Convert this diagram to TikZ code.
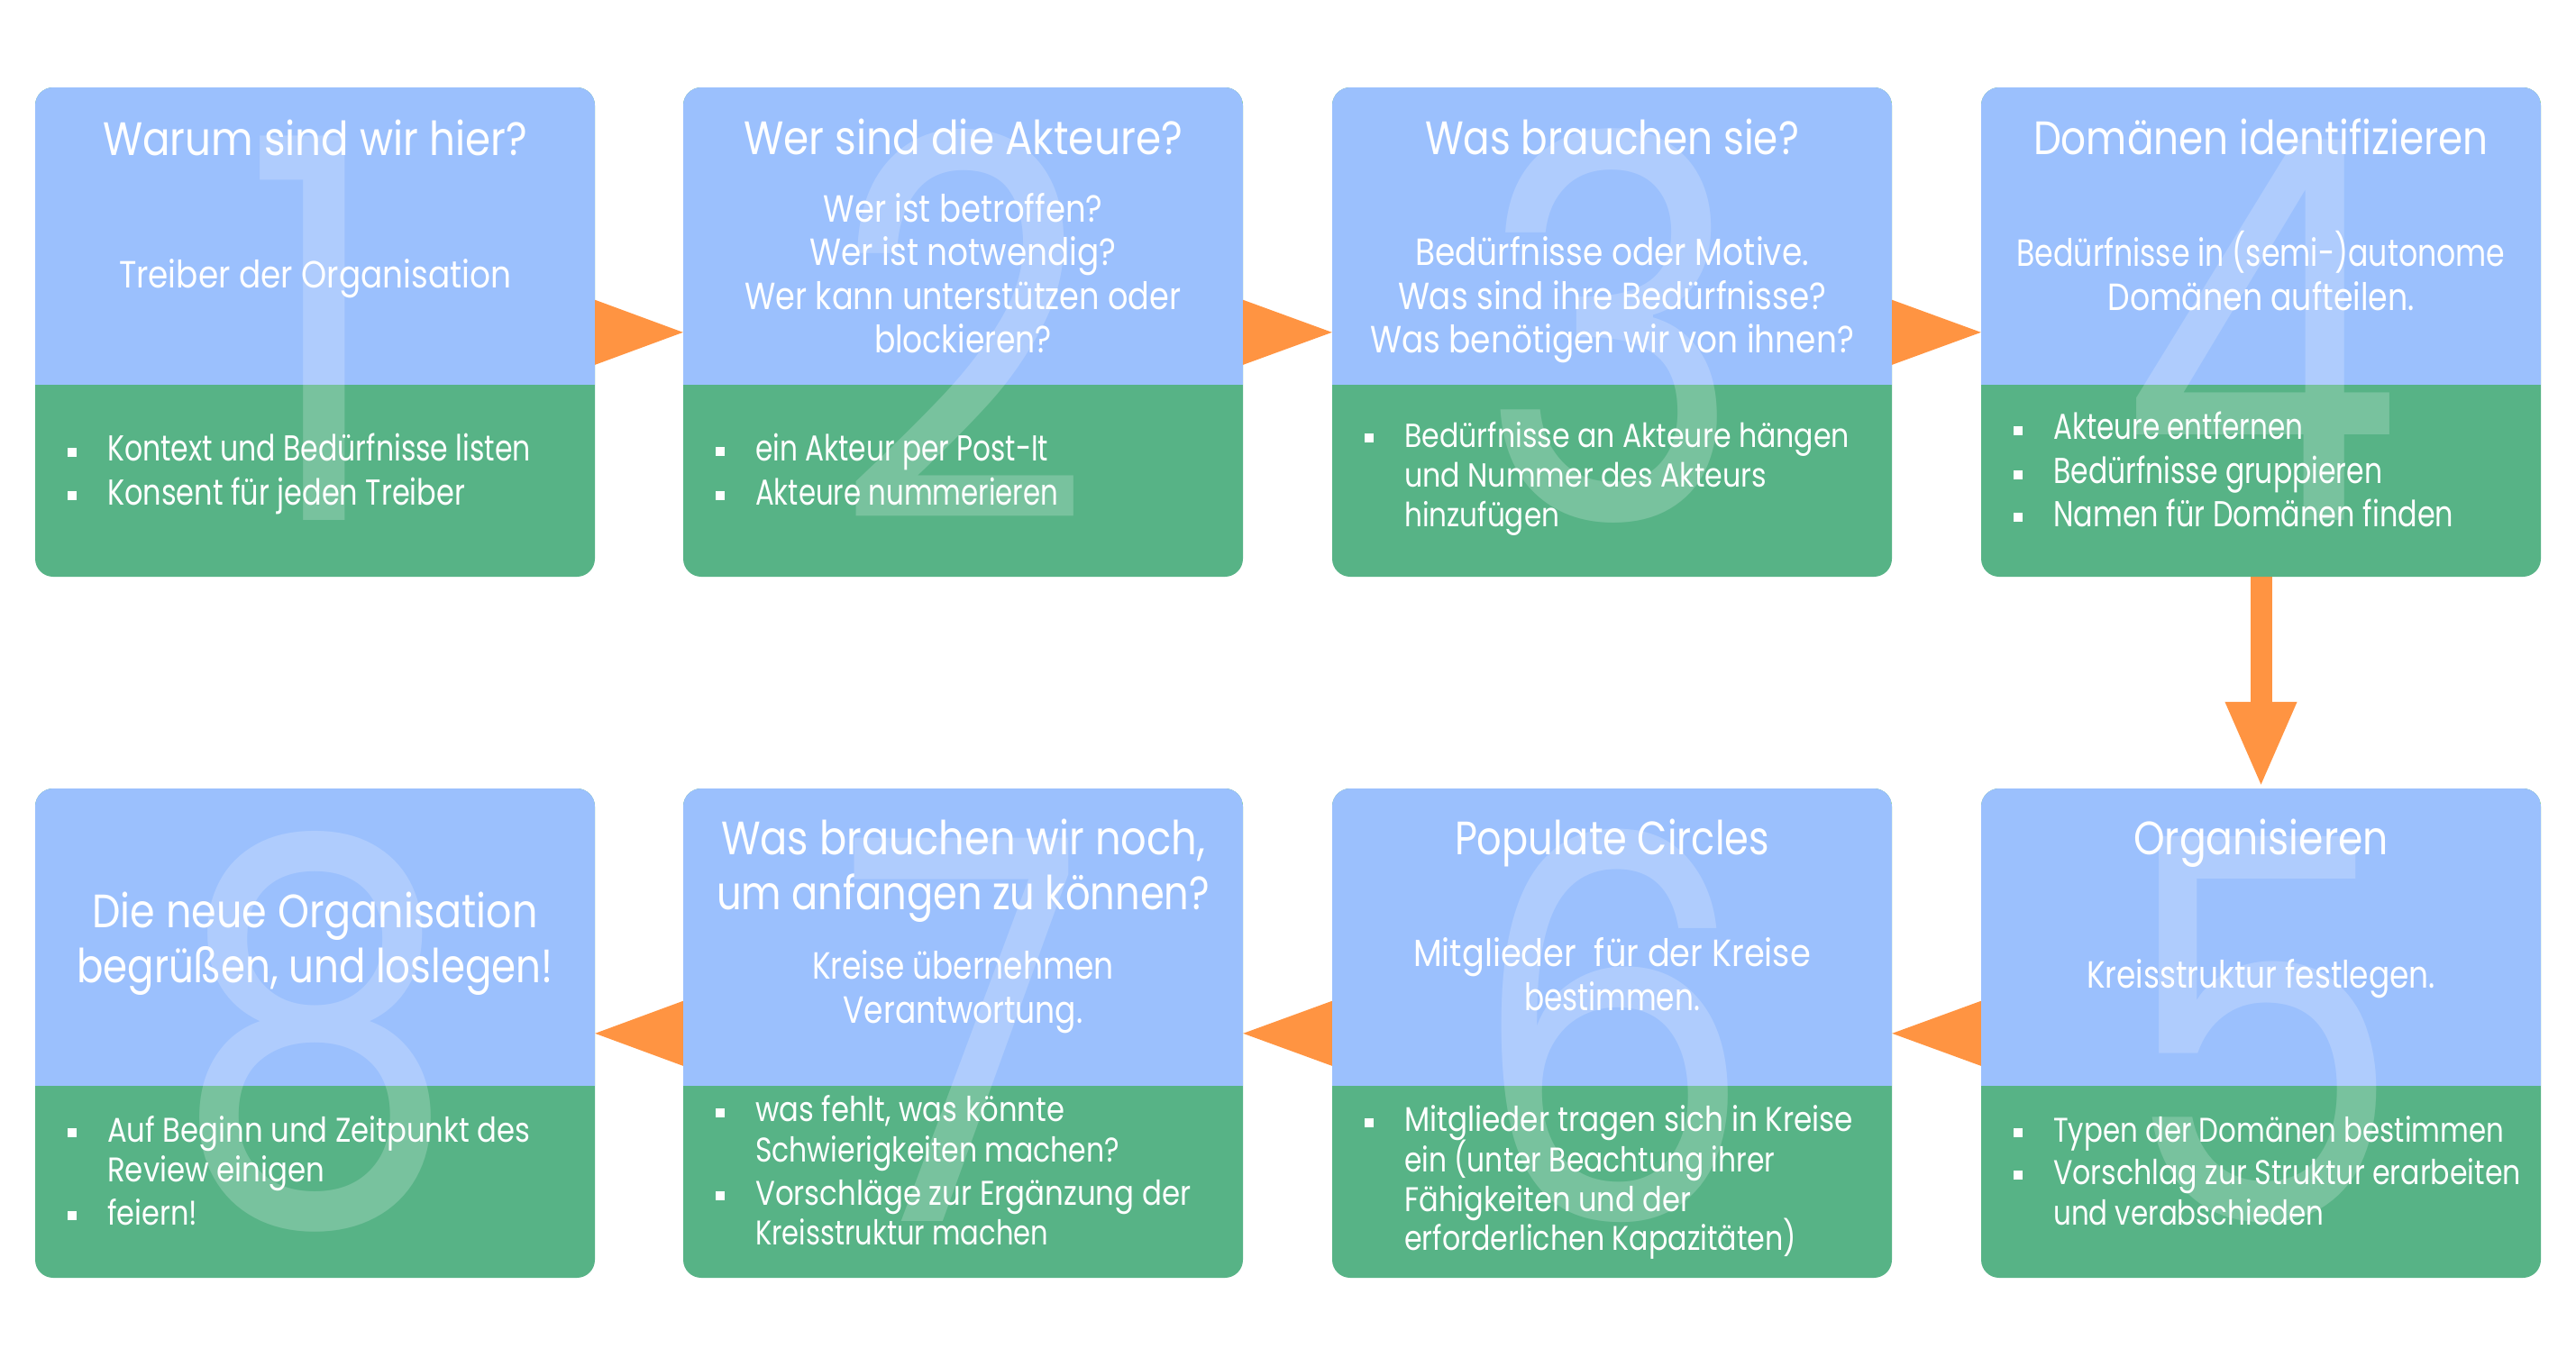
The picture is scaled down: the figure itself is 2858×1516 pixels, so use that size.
\documentclass[tikz,border=0pt]{standalone}
\usepackage{fontspec}
\usepackage{graphicx}
\setmainfont{Poppins}[FakeStretch=0.85]
\usetikzlibrary{calc,arrows.meta}
\definecolor{bxblue}{HTML}{9BC0FD}
\definecolor{bxgreen}{HTML}{57B386}
\definecolor{arrorange}{HTML}{FF9442}
\newlength\fitlen
\newcommand\fitw[2]{\settowidth\fitlen{#2}\pgfmathsetmacro\fitr{#1/\fitlen}\scalebox{\fitr}[1]{#2}}
\tikzset{
  stepbox/.style={minimum width=621pt, minimum height=543pt, inner sep=0pt,
    rounded corners=20pt, fill=bxgreen,
    path picture={\fill[bxblue, sharp corners] (path picture bounding box.north west) rectangle ([yshift=-330pt]path picture bounding box.north east);}},
  bignum/.style={text=white, text opacity=0.2, font=\fontsize{590}{600}\selectfont, inner sep=0pt, anchor=base, text height=415pt, text depth=0pt},
  ttl/.style={text=white, font=\fontsize{52}{60}\selectfont, inner sep=0pt, anchor=base},
  bdy/.style={text=white, font=\fontsize{42}{48}\selectfont, inner sep=0pt, anchor=base},
  itm/.style={text=white, font=\fontsize{40}{48}\selectfont, inner sep=0pt, anchor=base west},
  itms/.style={itm, font=\fontsize{37}{44}\selectfont},
  itmr/.style={itm, font=\fontsize{38}{44}\selectfont},
  tri/.style={fill=arrorange},
}
\newcommand\bul[2]{\fill[white] (#1-44,#2-15) rectangle (#1-34,#2-5);}
\begin{document}
\begin{tikzpicture}[x=1pt,y=-1pt]
\useasboundingbox (0,0) rectangle (2858,1516);
\fill[white] (0,0) rectangle (2858,1516);
% boxes
\node[stepbox] (b1) at (349.5,368.5) {};
\node[stepbox] (b2) at (1068.5,368.5) {};
\node[stepbox] (b3) at (1788.5,368.5) {};
\node[stepbox] (b4) at (2508.5,368.5) {};
\node[stepbox] (b5) at (2508.5,1146.5) {};
\node[stepbox] (b6) at (1788.5,1146.5) {};
\node[stepbox] (b7) at (1068.5,1146.5) {};
\node[stepbox] (b8) at (349.5,1146.5) {};
% big numbers
\node[bignum] (n1) at (349.5,577) {1};
\node[bignum] (n2) at (1068.5,577) {2};
\node[bignum] (n3) at (1788.5,577) {3};
\node[bignum] (n4) at (2508.5,577) {4};
\node[bignum] (n5) at (2508.5,1355) {5};
\node[bignum] (n6) at (1788.5,1355) {6};
\node[bignum] (n7) at (1068.5,1355) {7};
\node[bignum] (n8) at (349.5,1355) {8};
% arrows row 1
\fill[tri] ($(b1.north east)+(0,236)$) -- ($(b1.north east)+(0,308)$) -- ($(b2.north west)+(0,272)$) -- cycle;
\fill[tri] ($(b2.north east)+(0,236)$) -- ($(b2.north east)+(0,308)$) -- ($(b3.north west)+(0,272)$) -- cycle;
\fill[tri] ($(b3.north east)+(0,236)$) -- ($(b3.north east)+(0,308)$) -- ($(b4.north west)+(0,272)$) -- cycle;
% arrows row 2
\fill[tri] ($(b5.north west)+(0,236)$) -- ($(b5.north west)+(0,308)$) -- ($(b6.north east)+(0,272)$) -- cycle;
\fill[tri] ($(b6.north west)+(0,236)$) -- ($(b6.north west)+(0,308)$) -- ($(b7.north east)+(0,272)$) -- cycle;
\fill[tri] ($(b7.north west)+(0,236)$) -- ($(b7.north west)+(0,308)$) -- ($(b8.north east)+(0,272)$) -- cycle;
% down arrow
\draw[arrorange, line width=24pt, -{Triangle[width=72pt,length=96pt]}] (b4.south) -- (b5.north);
% box 1
\node[ttl] (t1) at (349.5,172) {\fitw{471}{Warum sind wir hier?}};
\node[bdy] (d1) at (349.5,319) {\fitw{435}{Treiber der Organisation}};
\node[itm] (i1a) at (119,511.6) {\fitw{470}{Kontext und Bedürfnisse listen}}; \bul{119}{511.6}
\node[itm] (i1b) at (119,560) {\fitw{397}{Konsent für jeden Treiber}}; \bul{119}{560}
% box 2
\node[ttl] (t2) at (1068.5,171.4) {\fitw{487}{Wer sind die Akteure?}};
\node[bdy] (d2a) at (1068.5,246) {\fitw{310}{Wer ist betroffen?}};
\node[bdy] (d2b) at (1068.5,294) {\fitw{340}{Wer ist notwendig?}};
\node[bdy] (d2c) at (1068.5,343.6) {\fitw{484}{Wer kann unterstützen oder}};
\node[bdy] (d2d) at (1068.5,391.8) {\fitw{197}{blockieren?}};
\node[itm] (i2a) at (838,511) {\fitw{325}{ein Akteur per Post-It}}; \bul{838}{511}
\node[itm] (i2b) at (838,560) {\fitw{336}{Akteure nummerieren}}; \bul{838}{560}
% box 3
\node[ttl] (t3) at (1788.5,171) {\fitw{415}{Was brauchen sie?}};
\node[bdy] (d3a) at (1788.5,294) {\fitw{437}{Bedürfnisse oder Motive.}};
\node[bdy] (d3b) at (1788.5,343.6) {\fitw{475}{Was sind ihre Bedürfnisse?}};
\node[bdy] (d3c) at (1788.5,391.8) {\fitw{537}{Was benötigen wir von ihnen?}};
\node[itms] (i3a) at (1558,496) {\fitw{494}{Bedürfnisse an Akteure hängen}}; \bul{1558}{496}
\node[itms] (i3b) at (1558,540) {\fitw{402}{und Nummer des Akteurs}};
\node[itms] (i3c) at (1558,584.6) {\fitw{172}{hinzufügen}};
% box 4
\node[ttl] (t4) at (2508.5,171) {\fitw{505}{Domänen identifizieren}};
\node[bdy] (d4a) at (2508.5,295) {\fitw{542}{Bedürfnisse in (semi-)autonome}};
\node[bdy] (d4b) at (2508.5,344) {\fitw{340}{Domänen aufteilen.}};
\node[itm] (i4a) at (2278,487.7) {\fitw{277}{Akteure entfernen}}; \bul{2278}{487.7}
\node[itm] (i4b) at (2278,536.5) {\fitw{365}{Bedürfnisse gruppieren}}; \bul{2278}{536.5}
\node[itm] (i4c) at (2278,584) {\fitw{444}{Namen für Domänen finden}}; \bul{2278}{584}
% box 5
\node[ttl] (t5) at (2508.5,948.8) {\fitw{283}{Organisieren}};
\node[bdy] (d5) at (2508.5,1096.8) {\fitw{387}{Kreisstruktur festlegen.}};
\node[itmr] (i5a) at (2278,1267) {\fitw{500}{Typen der Domänen bestimmen}}; \bul{2278}{1267}
\node[itmr] (i5b) at (2278,1314.3) {\fitw{519}{Vorschlag zur Struktur erarbeiten}}; \bul{2278}{1314.3}
\node[itmr] (i5c) at (2278,1359.4) {\fitw{300}{und verabschieden}};
% box 6
\node[ttl] (t6) at (1788.5,948.8) {\fitw{349}{Populate Circles}};
\node[bdy] (d6a) at (1788.5,1072.7) {\fitw{441}{Mitglieder\ \ für der Kreise}};
\node[bdy] (d6b) at (1788.5,1121.6) {\fitw{195}{bestimmen.}};
\node[itmr] (i6a) at (1558,1255.9) {\fitw{498}{Mitglieder tragen sich in Kreise}}; \bul{1558}{1255.9}
\node[itmr] (i6b) at (1558,1300) {\fitw{411}{ein (unter Beachtung ihrer}};
\node[itmr] (i6c) at (1558,1344.6) {\fitw{318}{Fähigkeiten und der}};
\node[itmr] (i6d) at (1558,1387) {\fitw{435}{erforderlichen Kapazitäten)}};
% box 7
\node[ttl] (t7a) at (1068.5,948.8) {\fitw{537}{Was brauchen wir noch,}};
\node[ttl] (t7b) at (1068.5,1009) {\fitw{547}{um anfangen zu können?}};
\node[bdy] (d7a) at (1068.5,1086.4) {\fitw{335}{Kreise übernehmen}};
\node[bdy] (d7b) at (1068.5,1135.6) {\fitw{266}{Verantwortung.}};
\node[itmr] (i7a) at (838,1244.8) {\fitw{343}{was fehlt, was könnte}}; \bul{838}{1244.8}
\node[itmr] (i7b) at (838,1289) {\fitw{404}{Schwierigkeiten machen?}};
\node[itmr] (i7c) at (838,1337) {\fitw{483}{Vorschläge zur Ergänzung der}}; \bul{838}{1337}
\node[itmr] (i7d) at (838,1381) {\fitw{325}{Kreisstruktur machen}};
% box 8
\node[ttl] (t8a) at (349.5,1029.4) {\fitw{494}{Die neue Organisation}};
\node[ttl] (t8b) at (349.5,1090) {\fitw{528}{begrüßen, und loslegen!}};
\node[itmr] (i8a) at (119,1267) {\fitw{469}{Auf Beginn und Zeitpunkt des}}; \bul{119}{1267}
\node[itmr] (i8b) at (119,1311) {\fitw{241}{Review einigen}};
\node[itmr] (i8c) at (119,1359.4) {\fitw{100}{feiern!}}; \bul{119}{1359.4}
\end{tikzpicture}
\end{document}
